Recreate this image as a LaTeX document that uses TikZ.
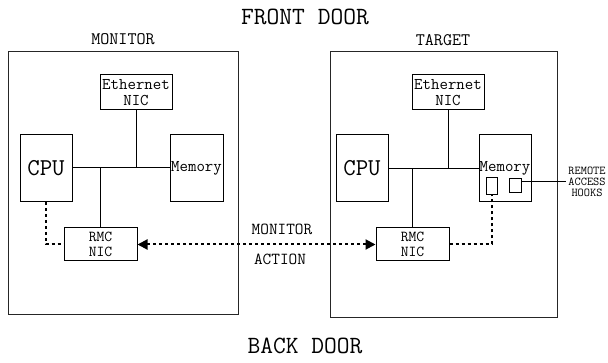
\documentclass[tikz,border=0pt]{standalone}
\usetikzlibrary{arrows.meta, positioning, calc}
\tikzset{
    machine/.style={
        rectangle, draw=black!85, line width=1pt, inner sep=0pt
    },
    part/.style={
        rectangle, draw=black, line width=1pt, inner sep=0pt, align=center,
        font=\ttfamily\fontsize{16.4}{15.5}\selectfont
    },
    bigpart/.style={
        part, font=\ttfamily\fontsize{24.2}{24}\selectfont
    },
    hookbox/.style={
        rectangle, draw=black, line width=1pt, inner sep=0pt
    },
    bus/.style={
        line width=1pt
    },
    dotlink/.style={
        line width=2pt, dash pattern=on 3pt off 3pt
    },
    doorlabel/.style={font=\ttfamily\fontsize{24.8}{25}\selectfont},
    boxlabel/.style={font=\ttfamily\fontsize{17.6}{18}\selectfont},
    linklabel/.style={font=\ttfamily\fontsize{16.8}{18}\selectfont}
}

\begin{document}
\begin{tikzpicture}[x=1pt, y=-1pt]
    \useasboundingbox (0,0) rectangle (608,363);

    \node[doorlabel] (front) at (305,17)  {FRONT DOOR};
    \node[doorlabel] (back)  at (305,346) {BACK DOOR};

    % monitor side
    \node[machine, minimum width=230pt, minimum height=263pt] (monitor) at (123,183.5) {};
    \node[boxlabel] (monlabel) at (123,39) {MONITOR};
    \node[part, minimum width=72pt, minimum height=35pt]    (meth) at (136,92.5)  {Ethernet\\NIC};
    \node[bigpart, minimum width=52pt, minimum height=67pt] (mcpu) at (46,168)    {CPU};
    \node[part, minimum width=53pt, minimum height=67pt]    (mmem) at (196.5,168) {Memory};
    \node[part, minimum width=73pt, minimum height=33pt,
          font=\ttfamily\fontsize{15.2}{15}\selectfont]     (mrmc) at (100.5,244.5) {RMC\\NIC};

    \draw[bus] (mcpu.east) -- (mmem.west);
    \draw[bus] (meth.south) -- (meth.south |- mcpu.east);
    \draw[bus] (mrmc.north) -- (mrmc.north |- mcpu.east);
    \draw[dotlink] (mcpu.south) |- (mrmc.west);

    % target side
    \node[machine, minimum width=227pt, minimum height=266pt] (target) at (443.5,185) {};
    \node[boxlabel] (tgtlabel) at (443,40) {TARGET};
    \node[part, minimum width=72pt, minimum height=35pt]    (teth) at (448,92.5)  {Ethernet\\NIC};
    \node[bigpart, minimum width=52pt, minimum height=67pt] (tcpu) at (362,168.5) {CPU};
    \node[part, minimum width=52pt, minimum height=67pt]    (tmem) at (505,168.5) {Memory};
    \node[part, minimum width=73pt, minimum height=33pt,
          font=\ttfamily\fontsize{15.2}{15}\selectfont]     (trmc) at (412.5,244.5) {RMC\\NIC};
    \node[hookbox, minimum width=11pt, minimum height=17pt] (hooka) at (491.5,186.5) {};
    \node[hookbox, minimum width=12pt, minimum height=14pt] (hookb) at (515,186) {};

    \draw[bus] (tcpu.east) -- (tmem.west);
    \draw[bus] (teth.south) -- (teth.south |- tcpu.east);
    \draw[bus] (trmc.north) -- (trmc.north |- tcpu.east);
    \draw[dotlink] (trmc.east) -| (hooka.south);

    \node[align=center, inner sep=2pt, font=\ttfamily\fontsize{12}{11}\selectfont] (remote) at (587,182)
        {REMOTE\\ACCESS\\HOOKS};
    \draw[bus] (hookb.east |- remote.west) -- (remote.west);

    % link between the two boxes
    \draw[dotlink, {Triangle[length=10pt, width=10pt]}-{Triangle[length=10pt, width=10pt]}]
        (mrmc.east) -- (trmc.west);
    \node[linklabel] (monitorlink) at (282,229) {MONITOR};
    \node[linklabel] (actionlink)  at (280,259) {ACTION};

\end{tikzpicture}
\end{document}
